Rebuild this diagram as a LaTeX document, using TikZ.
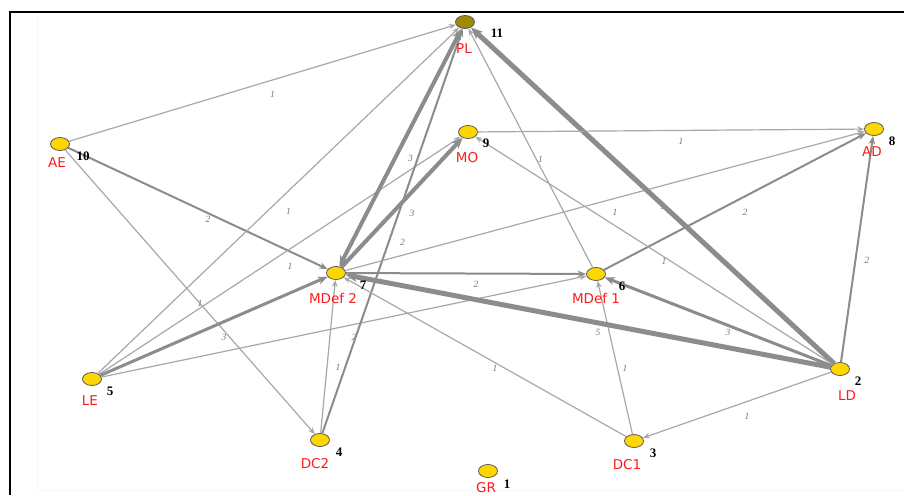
\documentclass[tikz,border=0pt]{standalone}
\usepackage{fontspec}
\usepackage{graphicx}
\setmainfont{Liberation Serif}
\newfontfamily\labfont{DejaVu Sans}
\usetikzlibrary{arrows.meta,shapes.geometric}
\definecolor{nodegold}{HTML}{FFD700}
\definecolor{plfill}{HTML}{A08A00}
\definecolor{edgethin}{HTML}{A8A8A8}
\definecolor{edgethick}{HTML}{8C8C8C}
\definecolor{labred}{HTML}{FF1A1A}
\definecolor{elabgray}{HTML}{7A7A7A}
\begin{document}
\begin{tikzpicture}[x=1pt,y=-1pt,
  vert/.style={draw=black!65, line width=0.8pt, fill=nodegold, ellipse, minimum width=19pt, minimum height=13pt, inner sep=0pt},
  vlabel/.style={text=labred, font=\labfont\fontsize{13.5}{14}\selectfont, inner sep=0pt},
  vnum/.style={font=\bfseries\fontsize{13}{13}\selectfont, inner sep=0pt},
  elab/.style={font=\itshape\fontsize{9.5}{10}\selectfont, text=elabgray, inner sep=0pt, midway, xshift=10pt, yshift=-11pt},
  wa/.style={draw=edgethin, line width=1.2pt, -{Stealth[length=7pt,width=5.5pt]}},
  wb/.style={draw=edgethick, line width=2pt, -{Stealth[length=8.5pt,width=6.5pt]}},
  wc/.style={draw=edgethick, line width=3pt, -{Stealth[length=10pt,width=8pt]}},
  wd/.style={draw=edgethick, line width=4pt, -{Stealth[length=11pt,width=9pt]}},
  we/.style={draw=edgethick, line width=5pt, -{Stealth[length=12pt,width=10pt]}}
]
\useasboundingbox (0,0) rectangle (904,495);
\fill[white] (0,0) rectangle (904,495);
% frame
\draw[black!3, line width=0.6pt] (37,14) -- (37,490) -- (904,490);
\draw[black, line width=2.5pt] (10,495) -- (10,12) -- (904,12);

% vertices
\node[vert, fill=plfill] (PL) at (465,22) {};
\node[vert] (AE) at (60,144) {};
\node[vert] (MO) at (468,132) {};
\node[vert] (AD) at (874,129) {};
\node[vert] (MDtwo) at (336,273) {};
\node[vert] (MDone) at (596,274) {};
\node[vert] (LE) at (92,379) {};
\node[vert] (DCtwo) at (320,440) {};
\node[vert] (DCone) at (634,441) {};
\node[vert] (LD) at (840,369) {};
\node[vert] (GR) at (488,471) {};

% hidden label under the PL--LD line
\path (LD) -- node[elab]{1} (PL);

% arcs
\draw[wa] (AE) -- node[elab]{1} (PL);
\draw[wb] (AE) -- node[elab]{2} (MDtwo);
\draw[wa] (AE) -- node[elab]{1} (DCtwo);
\draw[wa] (LE) -- node[elab]{1} (PL);
\draw[wa] (LE) -- node[elab]{1} (MO);
\draw[wc] (LE) -- node[elab]{3} (MDtwo);
\draw[wa] (LE) -- node[elab]{2} (MDone);
\draw[wb] (DCtwo) -- node[elab]{2} (PL);
\draw[wa] (DCtwo) -- node[elab]{1} (MDtwo);
\draw[wd, {Stealth[length=11pt,width=9pt]}-{Stealth[length=11pt,width=9pt]}] (MDtwo) -- node[elab]{3} (PL);
\draw[wd] (MDtwo) -- node[elab]{3} (MO);
\draw[wb] (MDtwo) -- node[elab]{2} (MDone);
\draw[wa] (MDtwo) -- node[elab]{1} (AD);
\draw[wa] (DCone) -- node[elab]{1} (MDtwo);
\draw[wa] (MDone) -- node[elab]{1} (PL);
\draw[wb] (MDone) -- node[elab]{2} (AD);
\draw[wa] (DCone) -- node[elab]{1} (MDone);
\draw[wa] (LD) -- node[elab]{1} (DCone);
\draw[wc] (LD) -- node[elab]{3} (MDone);
\draw[we] (LD) -- node[elab]{5} (MDtwo);
\draw[we] (LD) -- (PL);
\draw[wb] (LD) -- node[elab]{2} (AD);
\draw[wa] (LD) -- node[elab]{1} (MO);
\draw[wa] (MO) -- node[elab]{1} (AD);

% vertex names
\node[vlabel] (PLn) at (464,49) {PL};
\node[vlabel] (AEn) at (57,163) {AE};
\node[vlabel] (MOn) at (467,158) {MO};
\node[vlabel] (ADn) at (872,152) {AD};
\node[vlabel] (MDtwon) at (333,298) {MDef 2};
\node[vlabel] (MDonen) at (596,298) {MDef 1};
\node[vlabel] (LEn) at (90,401) {LE};
\node[vlabel] (DCtwon) at (315,464) {DC2};
\node[vlabel] (DConen) at (627,465) {DC1};
\node[vlabel] (LDn) at (847,396) {LD};
\node[vlabel] (GRn) at (486,488) {GR};

% vertex numbers
\node[vnum] (PLk) at (497,33) {11};
\node[vnum] (AEk) at (83,156) {10};
\node[vnum] (MOk) at (486,143) {9};
\node[vnum] (ADk) at (892,141) {8};
\node[vnum] (MDtwok) at (363,285) {7};
\node[vnum] (MDonek) at (622,286) {6};
\node[vnum] (LEk) at (110,391) {5};
\node[vnum] (DCtwok) at (339,452) {4};
\node[vnum] (DConek) at (653,453) {3};
\node[vnum] (LDk) at (858,381) {2};
\node[vnum] (GRk) at (507,484) {1};
\end{tikzpicture}
\end{document}
